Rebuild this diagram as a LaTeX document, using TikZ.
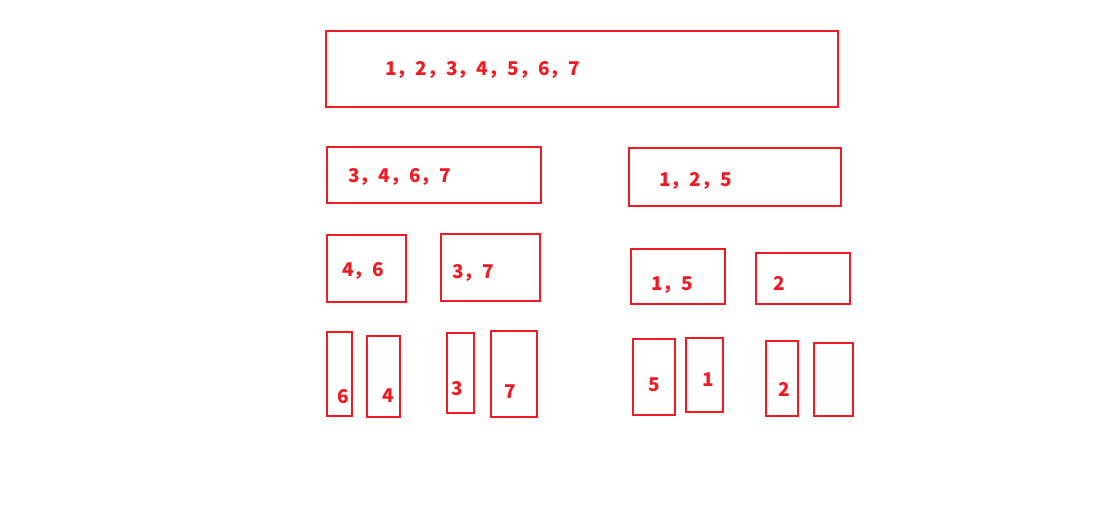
\documentclass[tikz,border=0pt]{standalone}
\usepackage{fontspec}
\newfontfamily\cjk{Noto Sans CJK SC}
\definecolor{paintred}{RGB}{237,28,36}

\begin{document}
\begin{tikzpicture}[x=1pt, y=-1pt,
    pile/.style={draw=paintred, line width=2pt, inner sep=0pt},
    lbl/.style={text=paintred, inner sep=0pt, font=\cjk\bfseries\fontsize{19}{19}\selectfont}]
    \useasboundingbox (0,0) rectangle (1119,522);
    % level 0
    \node[pile, minimum width=512pt, minimum height=76pt] (all) at (582,69) {};
    \node[lbl, anchor=base west] (tall) at (385,75) {1，2，3，4，5，6，7};
    % level 1
    \node[pile, minimum width=214pt, minimum height=56pt] (l) at (434,175) {};
    \node[lbl, anchor=base west] (tl) at (348,182) {3，4，6，7};
    \node[pile, minimum width=212pt, minimum height=58pt] (r) at (735,177) {};
    \node[lbl, anchor=base west] (tr) at (659,186) {1，2，5};
    % level 2
    \node[pile, minimum width=79pt, minimum height=67pt] (ll) at (366.5,268.5) {};
    \node[lbl, anchor=base west] (tll) at (342,276) {4，6};
    \node[pile, minimum width=99pt, minimum height=67pt] (lr) at (490.5,267.5) {};
    \node[lbl, anchor=base west] (tlr) at (452,278) {3，7};
    \node[pile, minimum width=94pt, minimum height=55pt] (rl) at (678,276.5) {};
    \node[lbl, anchor=base west] (trl) at (651,290) {1，5};
    \node[pile, minimum width=94pt, minimum height=51pt] (rr) at (803,278.5) {};
    \node[lbl, anchor=base west] (trr) at (773,290) {2};
    % level 3
    \node[pile, minimum width=25pt, minimum height=84pt] (lll) at (339.5,374) {};
    \node[lbl, anchor=base] (tlll) at (343,403) {6};
    \node[pile, minimum width=33pt, minimum height=81pt] (llr) at (383.5,376.5) {};
    \node[lbl, anchor=base] (tllr) at (388,402) {4};
    \node[pile, minimum width=27pt, minimum height=80pt] (lrl) at (460.5,373) {};
    \node[lbl, anchor=base] (tlrl) at (457,395) {3};
    \node[pile, minimum width=46pt, minimum height=86pt] (lrr) at (514,374) {};
    \node[lbl, anchor=base] (tlrr) at (510,398) {7};
    \node[pile, minimum width=42pt, minimum height=76pt] (rll) at (654,377) {};
    \node[lbl, anchor=base] (trll) at (654,391) {5};
    \node[pile, minimum width=37pt, minimum height=74pt] (rlr) at (704.5,375) {};
    \node[lbl, anchor=base] (trlr) at (708,386) {1};
    \node[pile, minimum width=32pt, minimum height=75pt] (rrl) at (782,378.5) {};
    \node[lbl, anchor=base] (trrl) at (784,396) {2};
    \node[pile, minimum width=39pt, minimum height=73pt] (rrr) at (833.5,379.5) {};
\end{tikzpicture}
\end{document}
